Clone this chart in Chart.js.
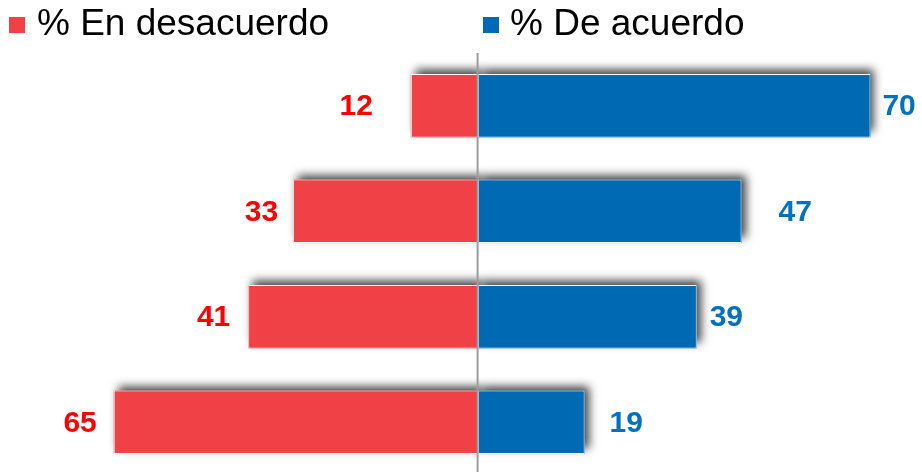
<!DOCTYPE html>
<html lang="es">
<head>
<meta charset="utf-8">
<title>% En desacuerdo / % De acuerdo</title>
<script src="https://cdn.jsdelivr.net/npm/chart.js@4/dist/chart.umd.min.js"></script>
<style>
  html, body { margin: 0; padding: 0; background: #fff; overflow: hidden; }
  #wrap { position: relative; width: 922px; height: 475px; }
  #chart { position: absolute; left: 0; top: 0; }
  .legend-item { position: absolute; top: 0; height: 50px; font-family: "Liberation Sans", Arial, sans-serif; font-size: 37px; color: #000; }
  .legend-box { position: absolute; top: 17px; width: 16px; height: 16px; }
  .legend-text { position: absolute; top: 2px; white-space: nowrap; line-height: normal; }
</style>
</head>
<body>
<div id="wrap">
  <canvas id="chart" width="922" height="475"></canvas>
  <div class="legend-item" style="left:0">
    <span class="legend-box" style="left:9px;background:#EF4146"></span>
    <span class="legend-text" style="left:37px">% En desacuerdo</span>
  </div>
  <div class="legend-item" style="left:0">
    <span class="legend-box" style="left:483px;background:#0069B4"></span>
    <span class="legend-text" style="left:510px">% De acuerdo</span>
  </div>
</div>
<script>
// Categories (one row each, top to bottom)
const categories = ['A', 'B', 'C', 'D'];
// Share of respondents who disagree / agree (%)
const desacuerdo = [12, 33, 41, 65];
const deAcuerdo = [70, 47, 39, 19];

const seriesNames = ['% En desacuerdo', '% De acuerdo'];
const fillColors = ['#EF4146', '#0069B4'];
const labelColors = ['#FF0000', '#0070C0'];

// Distance between each bar end and its value label, per row
const labelGaps = [
  [38, 15, 18, 17],
  [12, 37, 13, 25]
];

// Soft drop shadow painted under every bar before the bars themselves
const barShadow = {
  id: 'barShadow',
  beforeDatasetsDraw(chart) {
    const ctx = chart.ctx;
    ctx.save();
    ctx.shadowColor = 'rgba(0,0,0,0.75)';
    ctx.shadowBlur = 9;
    ctx.shadowOffsetX = 4;
    ctx.shadowOffsetY = -5;
    chart.data.datasets.forEach((ds, di) => {
      const meta = chart.getDatasetMeta(di);
      meta.data.forEach(bar => {
        const p = bar.getProps(['x', 'y', 'base', 'height'], true);
        const left = Math.min(p.x, p.base);
        const w = Math.abs(p.x - p.base);
        ctx.fillStyle = fillColors[di];
        ctx.fillRect(left, p.y - p.height / 2, w, p.height);
      });
    });
    ctx.restore();
  }
};

// Zero line and value labels beside the bar ends
const overlay = {
  id: 'overlay',
  afterDatasetsDraw(chart) {
    const ctx = chart.ctx;
    const x0 = chart.scales.x.getPixelForValue(0);
    ctx.save();
    ctx.strokeStyle = '#9C9C9C';
    ctx.lineWidth = 2;
    ctx.beginPath();
    ctx.moveTo(x0 - 0.5, chart.chartArea.top);
    ctx.lineTo(x0 - 0.5, 472);
    ctx.stroke();

    ctx.font = 'bold 30px "Liberation Sans", Arial, sans-serif';
    ctx.textBaseline = 'middle';
    chart.data.datasets.forEach((ds, di) => {
      const meta = chart.getDatasetMeta(di);
      meta.data.forEach((bar, i) => {
        const v = Math.abs(ds.data[i]);
        ctx.fillStyle = labelColors[di];
        if (di === 0) {
          ctx.textAlign = 'right';
          ctx.fillText(String(v), bar.x - labelGaps[di][i], bar.y + 1);
        } else {
          ctx.textAlign = 'left';
          ctx.fillText(String(v), bar.x + labelGaps[di][i], bar.y + 1);
        }
      });
    });
    ctx.restore();
  }
};

new Chart(document.getElementById('chart'), {
  type: 'bar',
  data: {
    labels: categories,
    datasets: [
      {
        label: seriesNames[0],
        data: desacuerdo.map(v => -v),
        backgroundColor: fillColors[0],
        borderColor: '#FFFFFF',
        borderWidth: 1,
        borderSkipped: false,
        barPercentage: 0.6,
        categoryPercentage: 1
      },
      {
        label: seriesNames[1],
        data: deAcuerdo,
        backgroundColor: fillColors[1],
        borderColor: '#FFFFFF',
        borderWidth: 1,
        borderSkipped: false,
        barPercentage: 0.6,
        categoryPercentage: 1
      }
    ]
  },
  options: {
    indexAxis: 'y',
    responsive: false,
    animation: false,
    layout: { padding: { top: 53, bottom: 0, left: 0, right: 0 } },
    plugins: {
      legend: { display: false },
      tooltip: { enabled: false }
    },
    scales: {
      x: {
        display: false,
        stacked: true,
        min: -85.3,
        max: 79.2
      },
      y: {
        display: false,
        stacked: true
      }
    }
  },
  plugins: [barShadow, overlay]
});
</script>
</body>
</html>
